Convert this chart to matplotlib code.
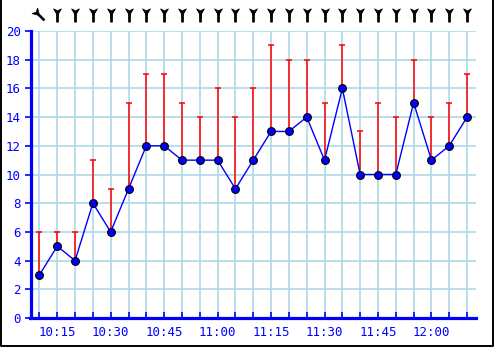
import matplotlib
matplotlib.use("Agg")
import matplotlib.pyplot as plt
from matplotlib.path import Path
from matplotlib.markers import MarkerStyle
from matplotlib.transforms import Affine2D
from matplotlib.lines import Line2D

times = ["10:10", "10:15", "10:20", "10:25", "10:30", "10:35", "10:40", "10:45",
         "10:50", "10:55", "11:00", "11:05", "11:10", "11:15", "11:20", "11:25",
         "11:30", "11:35", "11:40", "11:45", "11:50", "11:55", "12:00", "12:05", "12:10"]
speed = [3, 5, 4, 8, 6, 9, 12, 12, 11, 11, 11, 9, 11, 13, 13, 14, 11, 16, 10, 10, 10, 15, 11, 12, 14]
gust = [6, 6, 6, 11, 9, 15, 17, 17, 15, 14, 16, 14, 16, 19, 18, 18, 15, 19, 13, 15, 14, 18, 14, 15, 17]
direction = [45, 0, 0, 0, 0, 0, 0, 0, 0, 0, 0, 0, 0, 0, 0, 0, 0, 0, 0, 0, 0, 0, 0, 0, 0]
label_times = ["10:15", "10:30", "10:45", "11:00", "11:15", "11:30", "11:45", "12:00"]
yticks = [0, 2, 4, 6, 8, 10, 12, 14, 16, 18, 20]

W, H = 495, 348
fig = plt.figure(figsize=(W / 100, H / 100), dpi=100)
fig.patch.set_facecolor("white")
xl, xr, yb = 0.7 / W, (W - 1.7) / W, 1.7 / H
fig.lines.append(Line2D([xl, xl, xr, xr], [1.0, yb, yb, 1.0],
                        transform=fig.transFigure, color="black", linewidth=1.4))

ax = fig.add_axes([30.5 / W, (H - 318) / H, (476 - 30.5) / W, (318 - 31) / H])
x = list(range(len(times)))

ax.set_xlim(-0.5, len(times) - 0.5)
ax.set_ylim(0, 20)

blue = "#0000ff"
for s in ["top", "right"]:
    ax.spines[s].set_visible(False)
for s in ["left", "bottom"]:
    ax.spines[s].set_color(blue)
    ax.spines[s].set_linewidth(2.3)

ax.set_xticks(x, minor=True)
ax.set_xticks([times.index(t) for t in label_times])
ax.set_xticklabels(label_times)
ax.set_yticks(yticks)
ax.set_yticklabels([str(v) for v in yticks])

ax.tick_params(axis="x", which="both", direction="in", length=4, width=1.2, color=blue,
               labelcolor=blue, labelsize=9, pad=6)
ax.tick_params(axis="y", direction="out", length=4, width=1.2, color=blue,
               labelcolor=blue, labelsize=9, pad=3)
for lab in ax.get_xticklabels() + ax.get_yticklabels():
    lab.set_family("DejaVu Sans Mono")

grid_c = "#add8e6"
for xi in x:
    ax.axvline(xi, color=grid_c, linewidth=1.2, zorder=0)
for yv in yticks[1:]:
    ax.axhline(yv, color=grid_c, linewidth=1.2, zorder=0)

ax.vlines(x, speed, gust, color="red", linewidth=1.1, zorder=2)
ax.plot(x, gust, linestyle="none", marker="_", markersize=4, color="red",
        markeredgewidth=1.1, zorder=2)
ax.plot(x, speed, color=blue, linewidth=1.0, zorder=3)
ax.plot(x, speed, linestyle="none", marker="o", markersize=5.6,
        markerfacecolor=blue, markeredgecolor="black", markeredgewidth=0.8, zorder=4)

verts = [(-0.35, 0.6), (0.0, 0.0), (0.35, 0.6), (0.0, 0.42), (-0.35, 0.6),
         (-0.08, 0.1), (0.08, 0.1), (0.08, -0.6), (-0.08, -0.6), (-0.08, 0.1)]
codes = [Path.MOVETO, Path.LINETO, Path.LINETO, Path.LINETO, Path.CLOSEPOLY,
         Path.MOVETO, Path.LINETO, Path.LINETO, Path.LINETO, Path.CLOSEPOLY]
arrow = Path(verts, codes)
trans = ax.get_xaxis_transform()
for xi, d in zip(x, direction):
    m = MarkerStyle(arrow, transform=Affine2D().rotate_deg(d))
    ax.plot([xi], [1.056], marker=m, markersize=9.5, color="black",
            markerfacecolor="black", markeredgewidth=0.6, linestyle="none",
            transform=trans, clip_on=False)

fig.savefig("out.png", dpi=100)
